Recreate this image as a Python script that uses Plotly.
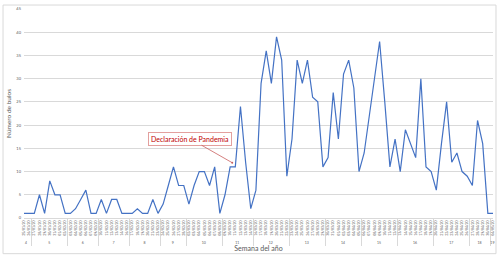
import plotly.graph_objects as go

week_labels = ["4", "5", "6", "7", "8", "9", "10", "11", "12", "13", "14", "15", "16", "17", "18", "19"]
dates_by_week = [
    ["25/01/20", "26/01/20"],
    ["27/01/20", "28/01/20", "29/01/20", "30/01/20", "31/01/20", "01/02/20", "02/02/20"],
    ["03/02/20", "04/02/20", "05/02/20", "06/02/20", "07/02/20", "09/02/20"],
    ["10/02/20", "11/02/20", "12/02/20", "13/02/20", "14/02/20", "16/02/20"],
    ["17/02/20", "18/02/20", "19/02/20", "20/02/20", "21/02/20", "23/02/20"],
    ["24/02/20", "25/02/20", "26/02/20", "27/02/20", "28/02/20"],
    ["02/03/20", "03/03/20", "04/03/20", "05/03/20", "06/03/20", "07/03/20", "08/03/20"],
    ["09/03/20", "10/03/20", "11/03/20", "12/03/20", "13/03/20", "14/03/20"],
    ["16/03/20", "17/03/20", "18/03/20", "19/03/20", "20/03/20", "21/03/20", "22/03/20"],
    ["23/03/20", "24/03/20", "25/03/20", "26/03/20", "27/03/20", "28/03/20", "29/03/20"],
    ["30/03/20", "31/03/20", "01/04/20", "02/04/20", "03/04/20", "04/04/20", "05/04/20"],
    ["06/04/20", "07/04/20", "08/04/20", "09/04/20", "10/04/20", "11/04/20", "12/04/20"],
    ["13/04/20", "14/04/20", "15/04/20", "16/04/20", "17/04/20", "18/04/20", "19/04/20"],
    ["20/04/20", "21/04/20", "22/04/20", "23/04/20", "24/04/20", "25/04/20", "26/04/20"],
    ["27/04/20", "28/04/20", "29/04/20", "30/04/20"],
    ["04/05/20"],
]
bulos = [
    1, 1,
    1, 5, 1, 8, 5, 5, 1,
    1, 2, 4, 6, 1, 1,
    4, 1, 4, 4, 1, 1,
    1, 2, 1, 1, 4, 1,
    3, 7, 11, 7, 7,
    3, 7, 10, 10, 7, 11, 1,
    5, 11, 11, 24, 12, 2,
    6, 29, 36, 29, 39, 34, 9,
    17, 34, 29, 34, 26, 25, 11,
    13, 27, 17, 31, 34, 28, 10,
    14, 22, 31, 38, 25, 11, 17,
    10, 19, 16, 13, 30, 11, 10,
    6, 16, 25, 12, 14, 10, 9,
    7, 21, 16, 1,
    1,
]
y_ticks = [0, 5, 10, 15, 20, 25, 30, 35, 40, 45]
annotation_text = "Declaración de Pandemia"

outer = [w for w, ds in zip(week_labels, dates_by_week) for _ in ds]
inner = [d for ds in dates_by_week for d in ds]

gray = "#595959"
grid = "#d9d9d9"

fig = go.Figure()
fig.add_trace(go.Scatter(
    x=[outer, inner], y=bulos, mode="lines",
    line=dict(color="#4472C4", width=1.2),
    hoverinfo="skip", showlegend=False,
))

fig.update_layout(
    width=500, height=261,
    margin=dict(l=24, r=6, t=7, b=43),
    paper_bgcolor="white", plot_bgcolor="white",
    font=dict(family="Lato", color=gray),
    xaxis=dict(
        type="multicategory",
        tickfont=dict(size=3.5, color=gray),
        tickangle=-90,
        showgrid=False,
        showline=True, linecolor=grid, linewidth=1,
        showdividers=True, dividercolor=grid, dividerwidth=1,
        ticks="",
        title=dict(text="Semana del año", font=dict(size=7, color=gray), standoff=2),
    ),
    yaxis=dict(
        range=[0, 45], tickvals=y_ticks,
        tickfont=dict(size=4, color=gray),
        showgrid=True, gridcolor=grid, gridwidth=1,
        zeroline=False, showline=False, ticks="",
        ticklabelstandoff=2,
        title=dict(text="Número de bulos", font=dict(size=6.5, color=gray), standoff=4),
    ),
)

fig.add_annotation(
    x=40.4, y=11.9, xref="x", yref="y",
    text=annotation_text, showarrow=True,
    ax=-42, ay=-24,
    arrowhead=6, arrowsize=0.6, arrowwidth=0.8, arrowcolor="#C9605E",
    font=dict(size=7, color="#C00000", family="Lato"),
    bordercolor="#E3A09E", borderwidth=1, borderpad=2, bgcolor="white",
)

fig.add_shape(
    type="rect", xref="paper", yref="paper",
    x0=-21 / 470, x1=473 / 470, y0=-36 / 211, y1=215 / 211,
    line=dict(color=grid, width=1), fillcolor="rgba(0,0,0,0)", layer="below",
)

fig.write_html("out.html")
